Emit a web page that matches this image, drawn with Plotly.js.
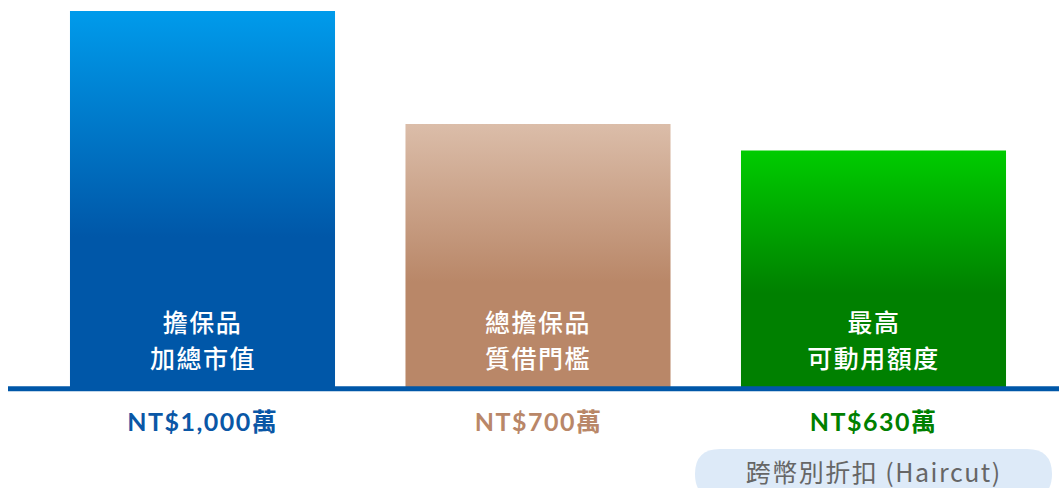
<!DOCTYPE html>
<html>
<head>
<meta charset="utf-8">
<script src="https://cdn.plot.ly/plotly-3.0.1.min.js"></script>
<style>
html,body{margin:0;padding:0;background:#fff;}
#chart{width:1059px;height:488px;}
#chart .annotation-text{letter-spacing:1.5px;}
</style>
</head>
<body>
<div id="chart"></div>
<script>
// ---- data ----
var categories = ["擔保品加總市值", "總擔保品質借門檻", "最高可動用額度"];
var values = [1000, 700, 630];
var labelLine1 = ["擔保品", "總擔保品", "最高"];
var labelLine2 = ["加總市值", "質借門檻", "可動用額度"];
var valueLabels = ["NT$1,000萬", "NT$700萬", "NT$630萬"];
var noteText = "跨幣別折扣 (Haircut)";
var noteCategoryIndex = 2;

// ---- styles ----
var topColors = ["#009BEB", "#DBBDA9", "#00CC00"];
var bottomColors = ["#0057A8", "#B98768", "#008000"];
var labelColors = ["#0A57A6", "#B98768", "#008000"];
var barWidth = 0.79;

var W = 1059, H = 488;
var mt = 11, mb = 100;
var plotH = H - mt - mb;
var pxPerCat = 335.5;
var firstCenterPx = 202.5;
var xr = [-firstCenterPx / pxPerCat, (W - firstCenterPx) / pxPerCat];

var traces = values.map(function (v, i) {
  var x0 = i - barWidth / 2, x1 = i + barWidth / 2;
  return {
    type: "scatter",
    mode: "none",
    x: [x0, x1, x1, x0, x0],
    y: [0, 0, v, v, 0],
    fill: "toself",
    fillcolor: bottomColors[i],
    fillgradient: {
      type: "vertical",
      colorscale: [[0, bottomColors[i]], [0.4, bottomColors[i]], [1, topColors[i]]]
    },
    line: {width: 0},
    hoverinfo: "skip",
    showlegend: false,
    name: categories[i]
  };
});

var annotations = [];
values.forEach(function (v, i) {
  annotations.push({
    x: i, y: 0, xref: "x", yref: "y", yanchor: "middle", yshift: 67,
    text: labelLine1[i], showarrow: false,
    font: {family: "Noto Sans CJK TC, Noto Sans", size: 25, color: "#ffffff", weight: 500}
  });
  annotations.push({
    x: i, y: 0, xref: "x", yref: "y", yanchor: "middle", yshift: 31,
    text: labelLine2[i], showarrow: false,
    font: {family: "Noto Sans CJK TC, Noto Sans", size: 25, color: "#ffffff", weight: 500}
  });
  annotations.push({
    x: i, y: 0, xref: "x", yref: "y", yanchor: "middle", yshift: -33,
    text: valueLabels[i], showarrow: false,
    font: {family: "Lato, Noto Sans CJK TC", size: 25, color: labelColors[i], weight: 700}
  });
});
annotations.push({
  x: noteCategoryIndex, y: 0, xref: "x", yref: "y", yanchor: "middle", yshift: -83,
  text: noteText, showarrow: false,
  font: {family: "Noto Sans CJK TC, Lato", size: 25, color: "#666666"}
});

// pill background (paper coords from pixel positions)
function px(p) { return p / W; }
function py(p) { return (H - mb - p) / plotH; }
var pl = 695, pr = 1052, pt = 449, pb = 499, rad = 25;
var pillPath = "M" + px(pl + rad) + "," + py(pt) +
  " L" + px(pr - rad) + "," + py(pt) +
  " Q" + px(pr) + "," + py(pt) + " " + px(pr) + "," + py(pt + rad) +
  " L" + px(pr) + "," + py(pb - rad) +
  " Q" + px(pr) + "," + py(pb) + " " + px(pr - rad) + "," + py(pb) +
  " L" + px(pl + rad) + "," + py(pb) +
  " Q" + px(pl) + "," + py(pb) + " " + px(pl) + "," + py(pb - rad) +
  " L" + px(pl) + "," + py(pt + rad) +
  " Q" + px(pl) + "," + py(pt) + " " + px(pl + rad) + "," + py(pt) + " Z";

var shapes = [
  {
    type: "line", xref: "paper", yref: "paper",
    x0: px(8), x1: 1, y0: py(388.7), y1: py(388.7),
    line: {color: "#0057A8", width: 5}, layer: "above"
  },
  {
    type: "path", xref: "paper", yref: "paper", path: pillPath,
    fillcolor: "#DDEAF8", line: {width: 0}, layer: "below"
  }
];

var layout = {
  width: W, height: H,
  margin: {l: 0, r: 0, t: mt, b: mb, pad: 0},
  paper_bgcolor: "#ffffff", plot_bgcolor: "#ffffff",
  xaxis: {range: xr, visible: false, fixedrange: true},
  yaxis: {range: [0, 1000], visible: false, fixedrange: true},
  showlegend: false,
  annotations: annotations,
  shapes: shapes,
  hovermode: false
};

Plotly.newPlot("chart", traces, layout, {displayModeBar: false, staticPlot: true});
</script>
</body>
</html>
